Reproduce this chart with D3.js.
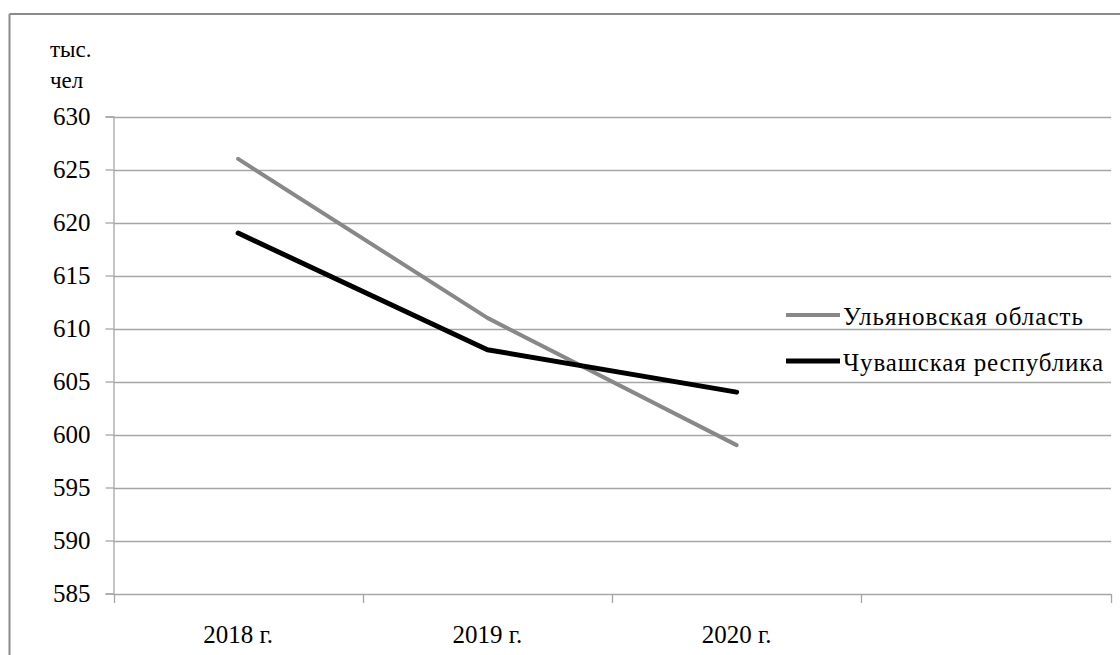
<!DOCTYPE html>
<html><head><meta charset="utf-8">
<script src="https://cdn.jsdelivr.net/npm/d3@7"></script>
<style>
html,body{margin:0;padding:0;background:#fff;}
svg text{font-family:"Liberation Serif","Times New Roman",Times,"DejaVu Serif",serif !important;}
</style></head>
<body><svg id="c" width="1120" height="655"></svg>
<script>
const categories = ["2018 г.", "2019 г.", "2020 г.", ""];
const ulyanovsk = [626, 611, 599];
const chuvash = [619, 608, 604];
const seriesNames = ["Ульяновская область", "Чувашская республика"];
const yTicks = [585, 590, 595, 600, 605, 610, 615, 620, 625, 630];
const unitLabel = ["тыс.", "чел"];

const svg = d3.select("#c");
const fs = 25;
// outer frame (top & left visible)
svg.append("line").attr("x1",9.5).attr("x2",1120).attr("y1",14).attr("y2",14).attr("stroke","#8a8a8a").attr("stroke-width",2);
svg.append("line").attr("x1",9.5).attr("x2",9.5).attr("y1",14).attr("y2",655).attr("stroke","#8a8a8a").attr("stroke-width",2);

const x = d3.scaleBand().domain(categories.map((c,i)=>i)).range([113.5,1110.5]);
const y = d3.scaleLinear().domain([585,630]).range([593.5,116.5]);

// gridlines
svg.append("g").selectAll("line").data(yTicks).join("line")
  .attr("x1",113.5).attr("x2",1111).attr("y1",d=>Math.round(y(d))+0.5).attr("y2",d=>Math.round(y(d))+0.5)
  .attr("stroke","#a6a6a6").attr("stroke-width",1.3);

// y axis
const yAxis = d3.axisLeft(y).tickValues(yTicks).tickSize(8).tickPadding(15).tickFormat(d3.format("d"));
const gy = svg.append("g").attr("transform","translate(113.5,0)").call(yAxis);
gy.attr("font-family",null).attr("font-size",null);
gy.select(".domain").attr("stroke","#a6a6a6").attr("stroke-width",1.3);
gy.selectAll(".tick line").attr("stroke","#a6a6a6").attr("stroke-width",1.3);
gy.selectAll(".tick text").attr("font-size",fs).attr("fill","#000");

// x axis
const xAxis = d3.axisBottom(x).tickSize(0).tickFormat(i=>categories[i]);
const gx = svg.append("g").attr("transform","translate(0,"+(Math.round(y(585))+0.5)+")").call(xAxis);
gx.attr("font-family",null).attr("font-size",null);
gx.select(".domain").remove();
gx.selectAll(".tick text").attr("font-size",fs).attr("fill","#000").attr("dy",0).attr("y",48);
// category boundary ticks
const bounds = categories.map((c,i)=>x(i)).concat([x.range()[1]]);
svg.append("g").selectAll("line").data(bounds).join("line")
  .attr("x1",d=>Math.round(d)+0.5).attr("x2",d=>Math.round(d)+0.5)
  .attr("y1",Math.round(y(585))).attr("y2",Math.round(y(585))+9)
  .attr("stroke","#a6a6a6").attr("stroke-width",1.3);

// unit label
svg.append("text").attr("x",50).attr("y",57).attr("font-size",fs-2).text(unitLabel[0]);
svg.append("text").attr("x",50).attr("y",88).attr("font-size",fs-2).text(unitLabel[1]);

// lines
const line = d3.line().x((d,i)=>x(i)+x.bandwidth()/2).y(d=>y(d));
svg.append("path").datum(ulyanovsk).attr("d",line).attr("fill","none").attr("stroke","#888888").attr("stroke-width",4).attr("stroke-linecap","round").attr("stroke-linejoin","round");
svg.append("path").datum(chuvash).attr("d",line).attr("fill","none").attr("stroke","#000").attr("stroke-width",5).attr("stroke-linecap","round").attr("stroke-linejoin","round");

// legend
const legColors = ["#888888","#000"];
const legW = [4,5];
const legY = [315,361];
const legLen = [240,260];
seriesNames.forEach((n,i)=>{
  svg.append("line").attr("x1",786).attr("x2",840).attr("y1",legY[i]).attr("y2",legY[i]).attr("stroke",legColors[i]).attr("stroke-width",legW[i]);
  svg.append("text").attr("x",843).attr("y",legY[i]+10).attr("font-size",fs)
    .attr("textLength",legLen[i]).attr("lengthAdjust","spacing").text(n);
});
</script></body></html>
